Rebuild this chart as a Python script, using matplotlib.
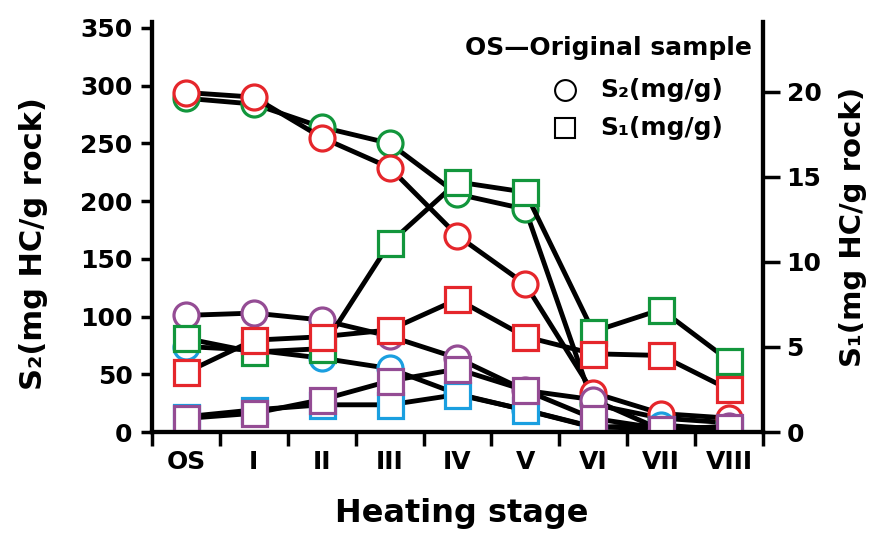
import matplotlib
matplotlib.use("Agg")
import matplotlib.pyplot as plt

# Heating stages
stages = ['OS', 'I', 'II', 'III', 'IV', 'V', 'VI', 'VII', 'VIII']

# S2 (mg HC/g rock), left axis, circles
s2_green = [289, 284, 264, 250, 206, 193, 24, 12, 8]
s2_red = [294, 290, 255, 229, 170, 128, 34, 16, 12]
s2_blue = [74, 71, 64, 55, 33, 19, 4, 6, 2]
s2_purple = [101, 103, 97, 83, 64, 36, 28, 2, 5]

# S1 (mg HC/g rock), right axis, squares
s1_green = [5.5, 4.7, 4.9, 11.1, 14.7, 14.1, 5.9, 7.2, 4.2]
s1_red = [3.5, 5.4, 5.6, 6.0, 7.8, 5.6, 4.6, 4.5, 2.5]
s1_blue = [0.9, 1.3, 1.6, 1.6, 2.2, 1.3, 0.3, 0.2, 0.1]
s1_purple = [0.8, 1.1, 1.9, 3.0, 3.7, 2.45, 0.8, 0.2, 0.3]

left_ticks = [0, 50, 100, 150, 200, 250, 300, 350]
right_ticks = [0, 5, 10, 15, 20]

colors = {'green': '#12963c', 'red': '#e5262b', 'blue': '#1a9fe0', 'purple': '#944c94'}

plt.rcParams['font.family'] = 'DejaVu Sans'
plt.rcParams['font.weight'] = 'bold'

fig = plt.figure(figsize=(8.82, 5.38), dpi=100)
ax = fig.add_axes([0.1723, 0.197, 0.6927, 0.762])
ax2 = ax.twinx()

x = list(range(len(stages)))
style = dict(color='black', lw=3.5, markerfacecolor='white', markeredgewidth=2.3, markersize=18)

for name, vals in [('green', s2_green), ('red', s2_red), ('blue', s2_blue), ('purple', s2_purple)]:
    ax.plot(x, vals, marker='o', markeredgecolor=colors[name], **style)
for name, vals in [('green', s1_green), ('red', s1_red), ('blue', s1_blue), ('purple', s1_purple)]:
    ax2.plot(x, vals, marker='s', markeredgecolor=colors[name], **style)

ax.set_xlim(-0.5, 8.5)
ax.set_ylim(0, 355)
ax2.set_ylim(0, 24.1)

ax.set_xticks(x)
ax.set_xticklabels(stages, fontsize=18, fontweight='bold')
ax.set_xticks([i - 0.5 for i in range(len(stages) + 1)], minor=True)
ax.tick_params(axis='x', which='major', length=0, pad=13)
ax.tick_params(axis='x', which='minor', length=10, width=2.5, direction='out')

ax.set_yticks(left_ticks)
ax.set_yticklabels([str(t) for t in left_ticks], fontsize=18, fontweight='bold')
ax.tick_params(axis='y', length=8, width=2.5, pad=6)
ax2.set_yticks(right_ticks)
ax2.set_yticklabels([str(t) for t in right_ticks], fontsize=18, fontweight='bold')
ax2.tick_params(axis='y', length=12, width=2.5, pad=5)

for a in (ax, ax2):
    a.spines['top'].set_visible(False)
    for s in ('left', 'right', 'bottom'):
        a.spines[s].set_linewidth(3)

ax.set_xlabel('Heating stage', fontsize=23, fontweight='bold')
ax.xaxis.set_label_coords(0.507, -0.16)
ax.set_ylabel('S₂(mg HC/g rock)', fontsize=22, fontweight='bold')
ax.yaxis.set_label_coords(-0.17, 0.46)
ax2.set_ylabel('S₁(mg HC/g rock)', fontsize=21, fontweight='bold', rotation=90)
ax2.yaxis.set_label_coords(1.125, 0.5)

# legend drawn by hand
ax.text(0.982, 0.937, 'OS—Original sample', transform=ax.transAxes, ha='right', va='center',
        fontsize=18, fontweight='bold')
ax.plot([0.676], [0.834], transform=ax.transAxes, marker='o', markersize=15,
        markerfacecolor='white', markeredgecolor='black', markeredgewidth=1.5, clip_on=False)
ax.text(0.733, 0.834, 'S₂(mg/g)', transform=ax.transAxes, ha='left', va='center',
        fontsize=18, fontweight='bold')
ax.plot([0.676], [0.741], transform=ax.transAxes, marker='s', markersize=15,
        markerfacecolor='white', markeredgecolor='black', markeredgewidth=1.5, clip_on=False)
ax.text(0.733, 0.741, 'S₁(mg/g)', transform=ax.transAxes, ha='left', va='center',
        fontsize=18, fontweight='bold')

fig.savefig('out.png', dpi=100)
